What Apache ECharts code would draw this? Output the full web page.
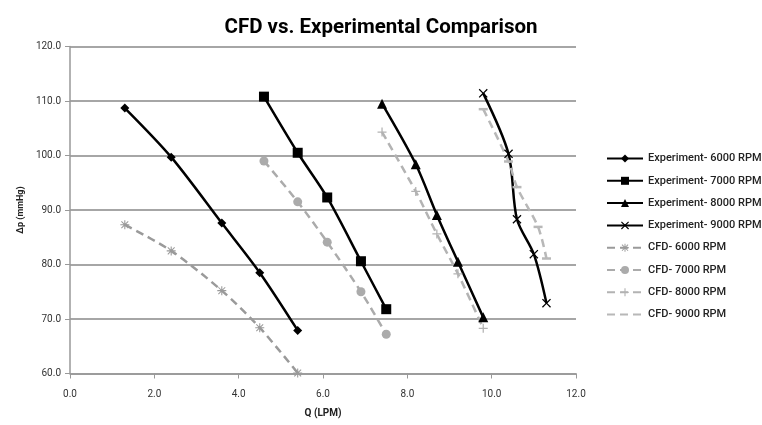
<!DOCTYPE html>
<html>
<head>
<meta charset="utf-8">
<script src="https://cdn.jsdelivr.net/npm/echarts@6/dist/echarts.min.js"></script>
<style>
  html, body { margin: 0; padding: 0; background: #fff; }
  #chart { width: 762px; height: 425px; }
</style>
</head>
<body>
<div id="chart"></div>
<script>
  // values: [Q (LPM), dp (mmHg)]
  var exp6000 = [[1.3, 108.7], [2.4, 99.7], [3.6, 87.6], [4.5, 78.5], [5.4, 67.9]]
  var exp7000 = [[4.6, 110.8], [5.4, 100.5], [6.1, 92.3], [6.9, 80.6], [7.5, 71.8]]
  var exp8000 = [[7.4, 109.5], [8.2, 98.4], [8.7, 89.1], [9.2, 80.5], [9.8, 70.3]]
  var exp9000 = [[9.8, 111.4], [10.4, 100.3], [10.6, 88.3], [11.0, 81.9], [11.3, 72.9]]
  var cfd6000 = [[1.3, 87.3], [2.4, 82.5], [3.6, 75.2], [4.5, 68.4], [5.4, 60.1]]
  var cfd7000 = [[4.6, 99.0], [5.4, 91.5], [6.1, 84.1], [6.9, 75.0], [7.5, 67.2]]
  var cfd8000 = [[7.4, 104.3], [8.2, 93.4], [8.7, 85.6], [9.2, 78.3], [9.8, 68.3]]
  var cfd9000 = [[9.8, 108.5], [10.4, 98.9], [10.6, 94.2], [11.1, 86.9], [11.3, 81.1]]

  var names = [
    'Experiment- 6000 RPM', 'Experiment- 7000 RPM', 'Experiment- 8000 RPM', 'Experiment- 9000 RPM',
    'CFD- 6000 RPM', 'CFD- 7000 RPM', 'CFD- 8000 RPM', 'CFD- 9000 RPM'
  ]

  var font = 'Roboto'

  // marker shapes
  var xMark = 'path://M0,1L1,0L5,4L9,0L10,1L6,5L10,9L9,10L5,6L1,10L0,9L4,5Z'
  var plusMark = 'path://M4.3,0H5.7V4.3H10V5.7H5.7V10H4.3V5.7H0V4.3H4.3Z'
  var starMark = 'path://M4.4,0H5.6V10H4.4Z M0,4.4H10V5.6H0Z M0.8,1.6L1.6,0.8L9.2,8.4L8.4,9.2Z M8.4,0.8L9.2,1.6L1.6,9.2L0.8,8.4Z'
  var dashMark = 'path://M0,0H10V2H0Z'

  function expSeries(name, data, symbol, size) {
    return {
      name: name, type: 'line', data: data, smooth: 0.3,
      symbol: symbol, symbolSize: size, showSymbol: true,
      lineStyle: { color: '#000', width: 2.5 },
      itemStyle: { color: '#000' }
    }
  }

  function cfdSeries(name, data, symbol, size, color) {
    return {
      name: name, type: 'line', data: data, smooth: 0.3,
      symbol: symbol, symbolSize: size, showSymbol: true,
      lineStyle: { color: color, width: 2.5, type: [8, 5] },
      itemStyle: { color: color }
    }
  }

  var legendData = names.map(function (n, i) {
    // last CFD entry shows only its dashed line in the legend
    return i === 7 ? { name: n, itemStyle: { opacity: 0 } } : { name: n }
  })

  var chart = echarts.init(document.getElementById('chart'))
  chart.setOption({
    animation: false,
    title: {
      text: 'CFD vs. Experimental Comparison',
      left: 'center',
      top: 12,
      textStyle: { fontFamily: font, fontSize: 20.5, fontWeight: 'bold', color: '#000' }
    },
    grid: { left: 70, right: 186, top: 46.5, bottom: 51.5 },
    legend: {
      orient: 'vertical',
      left: 601,
      top: 148,
      itemWidth: 36,
      itemHeight: 10,
      itemGap: 11.3,
      data: legendData,
      textStyle: { fontFamily: font, fontSize: 11, fontWeight: 500, color: '#222' }
    },
    xAxis: {
      type: 'value', min: 0, max: 12, interval: 2,
      name: 'Q (LPM)', nameLocation: 'middle', nameGap: 35,
      nameTextStyle: { fontFamily: font, fontSize: 10, fontWeight: 'bold', color: '#222' },
      axisLine: { lineStyle: { color: '#999', width: 1.5 } },
      axisTick: { show: true, length: 5, lineStyle: { color: '#999' } },
      axisLabel: { formatter: function (v) { return v.toFixed(1) }, color: '#333', fontSize: 10, margin: 16, fontFamily: font },
      splitLine: { show: false }
    },
    yAxis: {
      type: 'value', min: 60, max: 120, interval: 10,
      name: 'Δp (mmHg)', nameLocation: 'middle', nameGap: 45,
      nameTextStyle: { fontFamily: font, fontSize: 9, fontWeight: 'bold', color: '#222' },
      axisLine: { show: true, lineStyle: { color: '#999', width: 1.5 } },
      axisTick: { show: true, length: 5, lineStyle: { color: '#999' } },
      axisLabel: { formatter: function (v) { return v.toFixed(1) }, color: '#333', fontSize: 10, margin: 9, fontFamily: font },
      splitLine: { show: true, lineStyle: { color: '#a6a6a6', width: 2 } }
    },
    series: [
      expSeries(names[0], exp6000, 'diamond', 9),
      expSeries(names[1], exp7000, 'rect', 10),
      expSeries(names[2], exp8000, 'triangle', 10),
      expSeries(names[3], exp9000, xMark, 9),
      cfdSeries(names[4], cfd6000, starMark, 9, '#9a9a9a'),
      cfdSeries(names[5], cfd7000, 'circle', 9, '#ababab'),
      cfdSeries(names[6], cfd8000, plusMark, 9, '#b3b3b3'),
      cfdSeries(names[7], cfd9000, dashMark, [9, 2.5], '#b8b8b8')
    ]
  })
</script>
</body>
</html>
